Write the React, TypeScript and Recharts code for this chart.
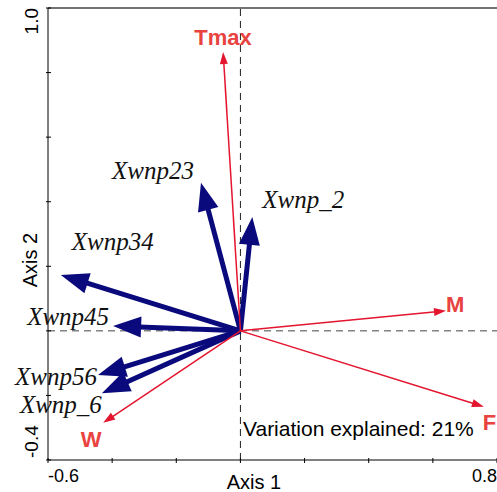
import React from "react";
import { ScatterChart, Scatter, XAxis, YAxis, ReferenceLine } from "recharts";

// species arrows (blue)
const speciesNames = ["Xwnp23", "Xwnp_2", "Xwnp34", "Xwnp45", "Xwnp56", "Xwnp_6"];
const speciesAxis1 = [-0.123, 0.037, -0.56, -0.397, -0.444, -0.432];
const speciesAxis2 = [0.459, 0.353, 0.173, 0.015, -0.137, -0.193];

// environmental arrows (red)
const envNames = ["Tmax", "M", "F", "W"];
const envAxis1 = [-0.054, 0.641, 0.759, -0.428];
const envAxis2 = [0.864, 0.062, -0.235, -0.285];

const axis1Ticks = [-0.6, -0.4, -0.2, 0, 0.2, 0.4, 0.6, 0.8];
const axis2Ticks = [-0.4, -0.2, 0, 0.2, 0.4, 0.6, 0.8, 1.0];

const SANS = "'Liberation Sans', Arial, sans-serif";
const SERIF = "'Liberation Serif', 'Times New Roman', serif";
const NAVY = "#0a0a7d";
const RED = "#e3152f";
const RED_TEXT = "#e8433f";

// label offsets from arrow tips, in pixels
const labelPlacement: Record<string, { dx: number; dy: number; anchor: string }> = {
  Tmax: { dx: 0, dy: -7, anchor: "middle" },
  M: { dx: 0, dy: 1, anchor: "start" },
  F: { dx: -1, dy: 23, anchor: "start" },
  W: { dx: -12, dy: 24, anchor: "middle" },
  Xwnp23: { dx: -48, dy: -4, anchor: "middle" },
  Xwnp_2: { dx: 10, dy: -9, anchor: "start" },
  Xwnp34: { dx: 52, dy: -25, anchor: "middle" },
  Xwnp45: { dx: -45, dy: -1, anchor: "middle" },
  Xwnp56: { dx: -42, dy: 10, anchor: "middle" },
  Xwnp_6: { dx: -41, dy: 20, anchor: "middle" },
};

const speciesData = speciesNames.map((name, i) => ({ name, x: speciesAxis1[i], y: speciesAxis2[i] }));
const envData = envNames.map((name, i) => ({ name, x: envAxis1[i], y: envAxis2[i] }));

type ArrowStyle = { color: string; width: number; head: number; half: number };
const speciesArrow: ArrowStyle = { color: NAVY, width: 5, head: 28, half: 10.5 };
const envArrow: ArrowStyle = { color: RED, width: 1.5, head: 12, half: 4 };

const arrowShape = (s: ArrowStyle) => (props: any) => {
  const { x1, y1, x2, y2 } = props;
  const ang = Math.atan2(y2 - y1, x2 - x1);
  const ux = Math.cos(ang);
  const uy = Math.sin(ang);
  const bx = x2 - ux * s.head;
  const by = y2 - uy * s.head;
  const px = -uy * s.half;
  const py = ux * s.half;
  return (
    <g>
      <line x1={x1} y1={y1} x2={bx + ux * 2} y2={by + uy * 2} stroke={s.color} strokeWidth={s.width} />
      <polygon points={`${x2},${y2} ${bx + px},${by + py} ${bx - px},${by - py}`} fill={s.color} />
    </g>
  );
};

const labelShape = (kind: "species" | "env") => (props: any) => {
  const { cx, cy, payload } = props;
  const p = labelPlacement[payload.name];
  if (kind === "species") {
    return (
      <text x={cx + p.dx} y={cy + p.dy} textAnchor={p.anchor} fontFamily={SERIF} fontStyle="italic" fontSize={25} fill="#111">
        {payload.name}
      </text>
    );
  }
  return (
    <text x={cx + p.dx} y={cy + p.dy} textAnchor={p.anchor} fontFamily={SANS} fontWeight="bold" fontSize={22} fill={RED_TEXT}>
      {payload.name}
    </text>
  );
};

const XTick = (props: any) => {
  const { x, y, payload } = props;
  const first = payload.value === axis1Ticks[0];
  const last = payload.value === axis1Ticks[axis1Ticks.length - 1];
  return (
    <g>
      <line x1={x} x2={x} y1={y - 2} y2={y + 3} stroke="#000" />
      {(first || last) && (
        <text x={x} y={y + 22} textAnchor={first ? "start" : "end"} fontFamily={SANS} fontSize={18} fill="#000">
          {payload.value.toFixed(1)}
        </text>
      )}
    </g>
  );
};

const YTick = (props: any) => {
  const { x, y, payload } = props;
  const first = payload.value === axis2Ticks[0];
  const last = payload.value === axis2Ticks[axis2Ticks.length - 1];
  const tx = x - 10;
  const ty = first ? y - 2 : y;
  return (
    <g>
      <line x1={x - 2} x2={x + 3} y1={y} y2={y} stroke="#000" />
      {(first || last) && (
        <text
          x={tx}
          y={ty}
          transform={`rotate(-90 ${tx} ${ty})`}
          textAnchor={first ? "start" : "end"}
          fontFamily={SANS}
          fontSize={19}
          fill="#000"
        >
          {payload.value.toFixed(1)}
        </text>
      )}
    </g>
  );
};

export default function App() {
  return (
    <div style={{ position: "absolute", left: 0, top: 0, background: "#fff" }}>
      <ScatterChart width={497} height={492} margin={{ top: 8, right: 0, left: 0, bottom: 0 }}>
        <XAxis
          type="number"
          dataKey="x"
          domain={[-0.6, 0.8]}
          ticks={axis1Ticks}
          interval={0}
          height={32}
          tickSize={0}
          tickMargin={0}
          tickLine={false}
          axisLine={{ stroke: "#000" }}
          tick={<XTick />}
        />
        <YAxis
          type="number"
          dataKey="y"
          domain={[-0.4, 1.0]}
          ticks={axis2Ticks}
          interval={0}
          width={48}
          tickSize={0}
          tickMargin={0}
          tickLine={false}
          axisLine={{ stroke: "#000" }}
          tick={<YTick />}
        />
        <ReferenceLine y={1.0} stroke="#444" strokeWidth={1.5} />
        <ReferenceLine x={0} stroke="#222" strokeDasharray="7 5" />
        <ReferenceLine y={0} stroke="#444" strokeDasharray="7 5" />

        {speciesData.map((d) => (
          <ReferenceLine
            key={d.name}
            segment={[{ x: 0, y: 0 }, { x: d.x, y: d.y }]}
            shape={arrowShape(speciesArrow)}
          />
        ))}
        {envData.map((d) => (
          <ReferenceLine
            key={d.name}
            segment={[{ x: 0, y: 0 }, { x: d.x, y: d.y }]}
            shape={arrowShape(envArrow)}
          />
        ))}

        <Scatter data={speciesData} shape={labelShape("species")} isAnimationActive={false} />
        <Scatter data={envData} shape={labelShape("env")} isAnimationActive={false} />

        <text x={243} y={436} fontFamily={SANS} fontSize={21} fill="#000">
          Variation explained: 21%
        </text>
        <text x={254} y={489} textAnchor="middle" fontFamily={SANS} fontSize={20} fill="#000">
          Axis 1
        </text>
        <text x={37} y={260} transform="rotate(-90 37 260)" textAnchor="middle" fontFamily={SANS} fontSize={20} fill="#000">
          Axis 2
        </text>
      </ScatterChart>
    </div>
  );
}
